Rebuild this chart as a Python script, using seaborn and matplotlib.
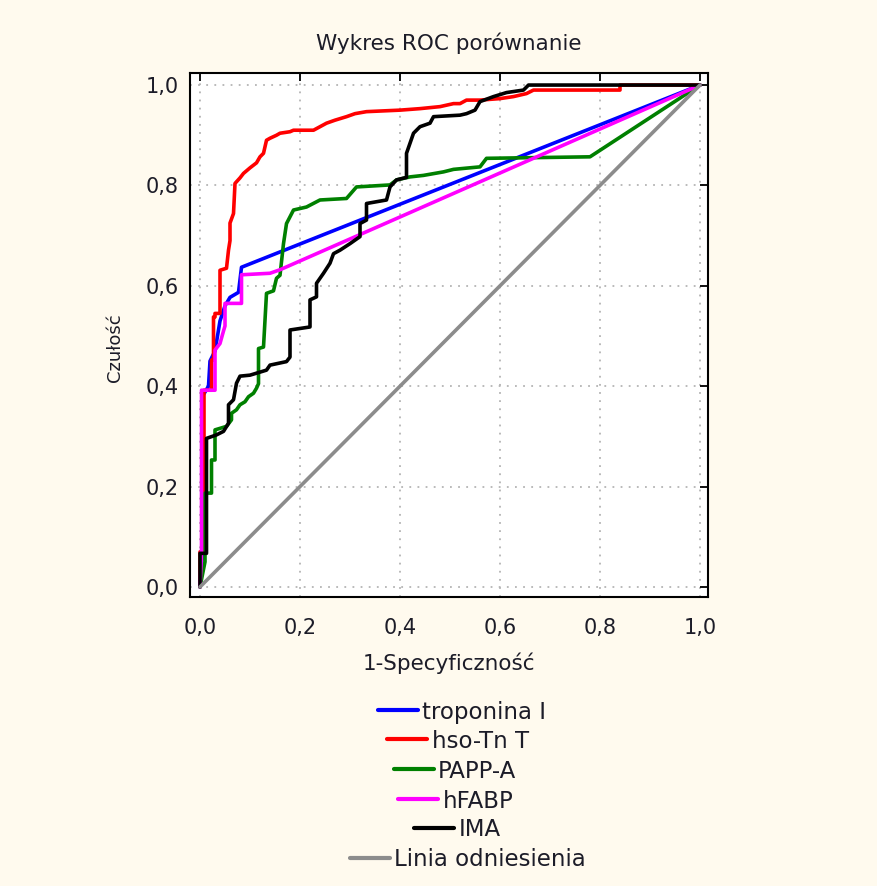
import matplotlib
matplotlib.use("Agg")
import matplotlib.pyplot as plt
import seaborn as sns
import pandas as pd
from matplotlib.lines import Line2D
from matplotlib.ticker import FuncFormatter

# ---------------- data ----------------
labels = ["troponina I", "hso-Tn T", "PAPP-A", "hFABP", "IMA", "Linia odniesienia"]
colors = ["#0000ff", "#ff0000", "#008000", "#ff00ff", "#000000", "#8c8c8c"]

tropo_x = [0, 0.005, 0.005, 0.017, 0.02, 0.03, 0.04, 0.05, 0.06, 0.077, 0.083, 1.0]
tropo_y = [0, 0.07, 0.38, 0.40, 0.45, 0.47, 0.53, 0.56, 0.577, 0.587, 0.637, 1.0]

hso_x = [0, 0, 0.008, 0.008, 0.023, 0.023, 0.027, 0.027, 0.03, 0.03, 0.04, 0.04,
         0.053, 0.057, 0.06, 0.06, 0.067, 0.07, 0.08, 0.087, 0.1, 0.113, 0.12,
         0.127, 0.133, 0.14, 0.153, 0.16, 0.18, 0.187, 0.227, 0.24, 0.253, 0.27,
         0.293, 0.31, 0.333, 0.4, 0.44, 0.48, 0.507, 0.52, 0.533, 0.56, 0.6,
         0.627, 0.653, 0.667, 0.84, 0.84, 1.0]
hso_y = [0, 0.07, 0.07, 0.392, 0.392, 0.452, 0.452, 0.538, 0.538, 0.545, 0.545, 0.631,
         0.635, 0.671, 0.69, 0.725, 0.744, 0.804, 0.815, 0.824, 0.835, 0.845, 0.857,
         0.864, 0.89, 0.894, 0.9, 0.904, 0.907, 0.91, 0.91, 0.917, 0.924, 0.93,
         0.937, 0.943, 0.947, 0.95, 0.953, 0.957, 0.963, 0.963, 0.97, 0.97, 0.973,
         0.977, 0.983, 0.99, 0.99, 1.0, 1.0]

papp_x = [0, 0.01, 0.01, 0.023, 0.023, 0.03, 0.03, 0.04, 0.053, 0.063, 0.063, 0.073,
          0.08, 0.09, 0.097, 0.107, 0.113, 0.117, 0.117, 0.127, 0.133, 0.147, 0.153,
          0.16, 0.167, 0.173, 0.187, 0.213, 0.24, 0.293, 0.313, 0.38, 0.393, 0.42,
          0.447, 0.487, 0.507, 0.56, 0.573, 0.78, 1.0]
papp_y = [0, 0.05, 0.187, 0.187, 0.253, 0.253, 0.313, 0.316, 0.32, 0.333, 0.346, 0.353,
          0.363, 0.369, 0.379, 0.386, 0.396, 0.405, 0.475, 0.478, 0.585, 0.59, 0.615,
          0.621, 0.684, 0.724, 0.751, 0.757, 0.771, 0.774, 0.797, 0.801, 0.811, 0.817,
          0.82, 0.827, 0.832, 0.837, 0.854, 0.857, 1.0]

hfabp_x = [0, 0.003, 0.003, 0.03, 0.03, 0.04, 0.047, 0.05, 0.05, 0.083, 0.083, 0.14, 0.16, 1.0]
hfabp_y = [0, 0.07, 0.392, 0.392, 0.472, 0.485, 0.51, 0.52, 0.565, 0.565, 0.622, 0.625, 0.632, 1.0]

ima_x = [0, 0, 0.013, 0.013, 0.033, 0.047, 0.057, 0.057, 0.067, 0.073, 0.08, 0.1, 0.133,
         0.14, 0.173, 0.18, 0.18, 0.22, 0.22, 0.233, 0.233, 0.247, 0.26, 0.267, 0.28,
         0.3, 0.32, 0.32, 0.333, 0.333, 0.373, 0.38, 0.393, 0.413, 0.413, 0.427, 0.44,
         0.46, 0.467, 0.52, 0.533, 0.55, 0.56, 0.587, 0.613, 0.647, 0.657, 1.0]
ima_y = [0, 0.067, 0.067, 0.296, 0.303, 0.31, 0.326, 0.363, 0.373, 0.406, 0.42, 0.422, 0.432,
         0.442, 0.449, 0.458, 0.512, 0.518, 0.572, 0.578, 0.605, 0.625, 0.645, 0.664, 0.671,
         0.684, 0.698, 0.724, 0.731, 0.764, 0.771, 0.797, 0.811, 0.816, 0.864, 0.904, 0.917,
         0.924, 0.937, 0.94, 0.943, 0.95, 0.967, 0.977, 0.985, 0.99, 1.0, 1.0]

ref_x = [0, 1.0]
ref_y = [0, 1.0]

tick_vals = [0.0, 0.2, 0.4, 0.6, 0.8, 1.0]

series = [(tropo_x, tropo_y), (hso_x, hso_y), (papp_x, papp_y),
          (hfabp_x, hfabp_y), (ima_x, ima_y), (ref_x, ref_y)]

# ---------------- figure ----------------
sns.set_theme(style="white")
plt.rcParams['font.family'] = ['DejaVu Sans']
txt = "#1c1c28"

W, H = 878, 886
fig = plt.figure(figsize=(W / 100, H / 100), dpi=100, facecolor="#fffaee")
ax = fig.add_axes([190 / W, 1 - 597 / H, 518 / W, 524 / H])
ax.set_facecolor("white")

for (xs, ys), lab, col in zip(series, labels, colors):
    df = pd.DataFrame({"x": xs, "y": ys})
    sns.lineplot(data=df, x="x", y="y", ax=ax, color=col, lw=2.6,
                 sort=False, estimator=None, legend=False)

ax.set_xlim(-0.02, 1.016)
ax.set_ylim(-0.02, 1.024)
ax.set_xticks(tick_vals)
ax.set_yticks(tick_vals)
fmt = FuncFormatter(lambda v, p: f"{v:.1f}".replace(".", ","))
ax.xaxis.set_major_formatter(fmt)
ax.yaxis.set_major_formatter(fmt)
ax.set_xlabel("")
ax.set_ylabel("")
ax.grid(True, color="#b4b4b4", linestyle=(0, (1, 3.5)), lw=1.3)
ax.tick_params(direction="in", length=6, width=1.3, top=True, right=True,
               labelsize=15, labelcolor=txt, colors="black")
ax.tick_params(axis="x", pad=15)
ax.tick_params(axis="y", pad=8)
for s in ax.spines.values():
    s.set_color("black")
    s.set_linewidth(1.5)

fig.text(449 / W, 1 - 43 / H, "Wykres ROC porównanie", ha="center", va="center",
         fontsize=15.5, color=txt)
fig.text(449 / W, 1 - 663 / H, "1-Specyficzność", ha="center", va="center",
         fontsize=15.5, color=txt)
fig.text(115 / W, 1 - 348 / H, "Czułość", ha="center", va="center",
         rotation=90, fontsize=13, color=txt)

rows_y = [712, 741, 771, 801, 830, 860]
rows_x = [462, 458, 455, 456, 457, 468]
for lab, col, ry, rx in zip(labels, colors, rows_y, rows_x):
    h = Line2D([], [], color=col, lw=3)
    fig.legend([h], [lab], loc="center", bbox_to_anchor=(rx / W, 1 - ry / H),
               frameon=False, fontsize=16.5, handlelength=1.75, handletextpad=0.2,
               borderpad=0, borderaxespad=0, labelcolor=txt)

fig.savefig("out.png", dpi=100, facecolor=fig.get_facecolor())
